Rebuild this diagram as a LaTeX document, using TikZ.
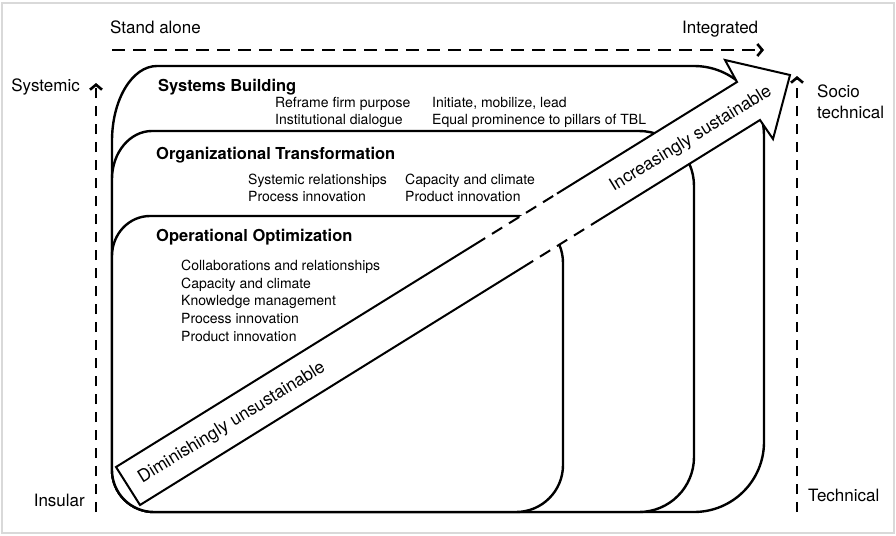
\documentclass[tikz,border=0pt]{standalone}
\usepackage{fontspec}
\setmainfont{TeX Gyre Heros}
\usetikzlibrary{arrows.meta}

\tikzset{
  box/.style={draw=black, line width=2.4pt, fill=white},
  shaft/.style={line width=2pt, line join=miter},
  shaftgap/.style={line width=2pt, dash pattern=on 12pt off 8pt},
  axisline/.style={line width=2.6pt, -{Straight Barb[length=5pt,width=12pt]}},
  boxtitle/.style={font=\fontsize{16.5}{18}\selectfont\bfseries, anchor=base west, inner sep=0pt},
  itemtext/.style={font=\fontsize{14}{16}\selectfont, anchor=base west, inner sep=0pt},
  sidelabel/.style={font=\fontsize{17}{19}\selectfont, inner sep=0pt},
  arrowlabel/.style={font=\fontsize{17.5}{19}\selectfont, rotate=31.6, inner sep=0pt}
}

\begin{document}
\begin{tikzpicture}[x=1pt, y=-1pt]

  \useasboundingbox (0,0) rectangle (896,535);
  \draw[black!15, line width=2.5pt] (2,3) rectangle (894,533);

  % --- Systems Building (outer box) ---
  \draw[box] (157,66) -- (694,66) arc[start angle=-90, end angle=0, radius=70]
    -- (764,442) arc[start angle=0, end angle=90, radius=70]
    -- (154,512) arc[start angle=90, end angle=180, radius=42]
    -- (112,141) arc[start angle=180, end angle=270, x radius=45, y radius=75] -- cycle;

  % --- Organizational Transformation ---
  \draw[box] (152,131) -- (639,131) arc[start angle=-90, end angle=0, radius=55]
    -- (694,457) arc[start angle=0, end angle=90, radius=55]
    -- (154,512) arc[start angle=90, end angle=180, radius=42]
    -- (112,179) arc[start angle=180, end angle=270, x radius=40, y radius=48] -- cycle;

  % --- Operational Optimization ---
  \draw[box] (150,216) -- (516,216) arc[start angle=-90, end angle=0, radius=47]
    -- (563,465) arc[start angle=0, end angle=90, radius=47]
    -- (154,512) arc[start angle=90, end angle=180, radius=42]
    -- (112,256) arc[start angle=180, end angle=270, x radius=38, y radius=40] -- cycle;

  % --- box texts ---
  \node[boxtitle] (sbTitle) at (158,91.5) {Systems Building};
  \node[itemtext] (sbReframe) at (275,107) {Reframe firm purpose};
  \node[itemtext] (sbDialogue) at (275,124) {Institutional dialogue};
  \node[itemtext] (sbLead) at (432,107) {Initiate, mobilize, lead};
  \node[itemtext] (sbPillars) at (432,124) {Equal prominence to pillars of TBL};

  \node[boxtitle] (otTitle) at (156,159) {Organizational Transformation};
  \node[itemtext] (otRelations) at (248,184) {Systemic relationships};
  \node[itemtext] (otProcess) at (248,201) {Process innovation};
  \node[itemtext] (otCapacity) at (405,184) {Capacity and climate};
  \node[itemtext] (otProduct) at (405,201) {Product innovation};

  \node[boxtitle] (ooTitle) at (156,241) {Operational Optimization};
  \foreach \txt [count=\i] in {Collaborations and relationships, Capacity and climate,
      Knowledge management, Process innovation, Product innovation}
    \node[itemtext] (oo\i) at (181,253+17.6*\i) {\txt};

  % --- big arrow ---
  \coordinate (tailU) at (116,467);
  \coordinate (tailL) at (140,505);
  \coordinate (baseU) at (737,82);
  \coordinate (baseL) at (760,120);
  \coordinate (barbU) at (725,60);
  \coordinate (barbL) at (773,139);
  \coordinate (tip) at (790,75);
  \coordinate (gapU1) at (475,244.4);
  \coordinate (gapU2) at (557,193.6);
  \coordinate (gapL1) at (523,267.2);
  \coordinate (gapL2) at (595,222.5);

  \fill[white] (tailU) -- (baseU) -- (barbU) -- (tip) -- (barbL) -- (baseL) -- (tailL) -- cycle;
  \draw[shaft] (gapU1) -- (tailU) -- (tailL) -- (gapL1);
  \draw[shaftgap] (gapU1) -- (gapU2);
  \draw[shaftgap] (gapL1) -- (gapL2);
  \draw[shaft] (gapU2) -- (baseU) -- (barbU) -- (tip) -- (barbL) -- (baseL) -- (gapL2);

  \node[arrowlabel] (dimLabel) at (232,423) {Diminishingly unsustainable};
  \node[arrowlabel] (incLabel) at (691,139) {Increasingly sustainable};

  % --- axes ---
  \coordinate (hFrom) at (112,50);
  \coordinate (hTo) at (764,50);
  \coordinate (lFrom) at (96,512);
  \coordinate (lTo) at (96,83);
  \coordinate (rFrom) at (797,512);
  \coordinate (rTo) at (797,76);
  \draw[axisline, dash pattern=on 12.5pt off 8.5pt] (hFrom) -- (hTo);
  \draw[axisline, dash pattern=on 10pt off 8pt] (lFrom) -- (lTo);
  \draw[axisline, dash pattern=on 10pt off 8pt] (rFrom) -- (rTo);

  \node[sidelabel, anchor=base west] (standAlone) at (110,33.5) {Stand alone};
  \node[sidelabel, anchor=base west] (integrated) at (682,33.5) {Integrated};
  \node[sidelabel, anchor=base east] (systemic) at (80,91.5) {Systemic};
  \node[sidelabel, anchor=base east] (insular) at (85,506) {Insular};
  \node[sidelabel, anchor=base west] (socio) at (817,97) {Socio};
  \node[sidelabel, anchor=base west] (socioTech) at (817,118) {technical};
  \node[sidelabel, anchor=base west] (technical) at (808,501) {Technical};

\end{tikzpicture}
\end{document}
